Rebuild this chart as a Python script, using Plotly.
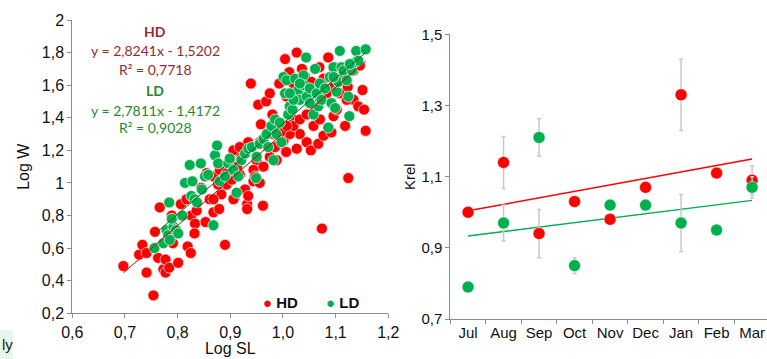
import numpy as np
import plotly.graph_objects as go

# ---------------- Left panel data: Log SL vs Log W ----------------
hd_logsl = [0.697, 0.727, 0.733, 0.741, 0.741, 0.754, 0.757, 0.763, 0.766, 0.773, 0.777, 0.777,
            0.784, 0.791, 0.789, 0.801, 0.806, 0.819, 0.825, 0.826, 0.833, 0.832, 0.845, 0.853,
            0.861, 0.868, 0.879, 0.883, 0.890, 0.893, 0.903, 0.908, 0.918, 0.928, 0.932, 0.932,
            0.934, 0.939, 0.944, 0.950, 0.956, 0.958, 0.962, 0.953, 0.968, 0.975, 0.980, 0.988,
            0.993, 0.997, 1.004, 1.006, 1.007, 1.012, 1.020, 1.026, 1.026, 1.032, 1.036, 1.045,
            1.053, 1.058, 1.067, 1.069, 1.074, 1.077, 1.086, 1.092, 1.096, 1.108, 1.118, 1.123,
            1.124, 1.134, 1.143, 1.151, 1.154, 1.157,
            0.899, 0.913, 0.921, 0.944, 0.963, 0.975, 0.985, 1.001, 1.013, 1.020, 1.032, 1.045,
            1.061, 1.070, 1.083, 1.096, 1.108, 1.121, 1.102, 1.070, 0.868, 0.880, 0.906, 0.925,
            0.893, 0.855, 0.877, 0.918, 0.956, 0.982, 0.995, 1.007, 1.020, 1.042, 1.054, 1.077,
            1.115, 1.134, 1.096, 1.146, 0.817, 0.836, 0.868, 0.906, 0.934, 0.947]
hd_logw = [0.49, 0.56, 0.62, 0.57, 0.45, 0.31, 0.70, 0.54, 0.85, 0.47, 0.53, 0.45,
           0.48, 0.63, 0.80, 0.51, 0.87, 0.61, 0.57, 0.80, 0.75, 0.69, 0.97, 0.76,
           0.90, 0.82, 0.84, 0.93, 0.62, 0.99, 1.02, 0.91, 1.05, 0.96, 0.87, 0.84,
           1.25, 1.61, 1.01, 1.14, 1.00, 1.36, 0.86, 1.48, 1.50, 1.55, 1.42, 1.14,
           1.61, 1.24, 1.76, 1.19, 1.53, 1.68, 1.39, 1.80, 1.21, 1.30, 1.70, 1.25,
           1.20, 1.35, 1.24, 1.71, 0.72, 1.29, 1.77, 1.31, 1.41, 1.55, 1.35, 1.59,
           1.03, 1.51, 1.47, 1.57, 1.45, 1.32,
           1.11, 1.10, 1.16, 1.08, 1.10, 1.16, 1.22, 1.26, 1.30, 1.35, 1.39, 1.42,
           1.47, 1.51, 1.55, 1.59, 1.63, 1.51, 1.45, 1.39, 1.04, 1.08, 1.20, 1.20,
           1.06, 1.06, 0.99, 1.22, 1.25, 1.30, 1.31, 1.35, 1.61, 1.65, 1.62, 1.64,
           1.69, 1.69, 1.71, 1.72, 0.90, 0.83, 0.90, 0.90, 0.92, 1.04]

ld_logsl = [0.756, 0.773, 0.784, 0.779, 0.782, 0.785, 0.792, 0.797, 0.789, 0.801, 0.809, 0.814,
            0.823, 0.826, 0.828, 0.832, 0.837, 0.844, 0.846, 0.852, 0.858, 0.868, 0.871, 0.875,
            0.877, 0.880, 0.890, 0.896, 0.899, 0.906, 0.912, 0.915, 0.921, 0.928, 0.934, 0.941,
            0.949, 0.950, 0.956, 0.963, 0.969, 0.972, 0.978, 0.982, 0.985, 0.988, 0.994, 0.997,
            1.001, 1.004, 1.007, 1.010, 1.013, 1.018, 1.023, 1.029, 1.032, 1.039, 1.039, 1.044,
            1.045, 1.051, 1.058, 1.061, 1.064, 1.067, 1.070, 1.073, 1.080, 1.086, 1.089, 1.092,
            1.096, 1.102, 1.105, 1.108, 1.111, 1.115, 1.121, 1.124, 1.126, 1.131, 1.137, 1.139,
            1.143, 1.157, 1.127, 1.099, 1.032, 1.020, 1.013, 1.051, 1.096]
ld_logw = [0.60, 0.63, 0.88, 0.71, 0.68, 0.65, 0.73, 0.71, 0.78, 0.69, 0.80, 1.00,
           1.11, 0.92, 1.01, 0.90, 0.88, 1.12, 0.96, 1.04, 1.05, 0.74, 1.17, 1.23,
           1.12, 1.01, 1.04, 1.12, 1.15, 1.08, 0.94, 1.04, 1.14, 1.18, 1.21, 1.22,
           1.03, 1.16, 1.24, 1.27, 1.30, 1.22, 1.35, 1.14, 1.39, 1.30, 1.37, 1.25,
           1.65, 1.55, 1.63, 1.42, 1.47, 1.45, 1.64, 1.57, 1.51, 1.66, 1.60, 1.77,
           1.53, 1.58, 1.42, 1.70, 1.55, 1.47, 1.61, 1.51, 1.58, 1.34, 1.65, 1.49,
           1.71, 1.56, 1.62, 1.81, 1.71, 1.69, 1.63, 1.53, 1.41, 1.69, 1.74, 1.81,
           1.75, 1.82, 1.73, 1.46, 1.61, 1.51, 1.55, 1.49, 1.65]

# Trendline coefficients (as printed on the chart)
hd_slope, hd_intercept, hd_r2 = 2.8241, -1.5202, 0.7718
ld_slope, ld_intercept, ld_r2 = 2.7811, -1.4172, 0.9028

# ---------------- Right panel data: Krel by month ----------------
months = ["Jul", "Aug", "Sep", "Oct", "Nov", "Dec", "Jan", "Feb", "Mar"]
hd_krel = [1.00, 1.14, 0.94, 1.03, 0.98, 1.07, 1.33, 1.11, 1.09]
hd_err = [0.0, 0.073, 0.068, 0.0, 0.0, 0.0, 0.10, 0.0, 0.04]
ld_krel = [0.79, 0.97, 1.21, 0.85, 1.02, 1.02, 0.97, 0.95, 1.07]
ld_err = [0.0, 0.05, 0.053, 0.022, 0.0, 0.0, 0.08, 0.0, 0.03]

left_x_ticks = [0.6, 0.7, 0.8, 0.9, 1.0, 1.1, 1.2]
left_x_text = ["0,6", "0,7", "0,8", "0,9", "1,0", "1,1", "1,2"]
left_y_ticks = [0.2, 0.4, 0.6, 0.8, 1.0, 1.2, 1.4, 1.6, 1.8, 2.0]
left_y_text = ["0,2", "0,4", "0,6", "0,8", "1", "1,2", "1,4", "1,6", "1,8", "2"]
right_y_ticks = [0.7, 0.9, 1.1, 1.3, 1.5]
right_y_text = ["0,7", "0,9", "1,1", "1,3", "1,5"]

RED = "#ff0000"
GREEN = "#00b050"
HD_TXT = "#952b2b"
LD_TXT = "#1f8a2a"
AX = "#8c8c8c"
W, H = 767, 359

fig = go.Figure()

# Left scatter
fig.add_trace(go.Scatter(x=hd_logsl, y=hd_logw, mode="markers", name="HD",
                         marker=dict(color=RED, size=11, line=dict(color="#ffdddd", width=0.8)),
                         xaxis="x", yaxis="y", showlegend=False))
fig.add_trace(go.Scatter(x=ld_logsl, y=ld_logw, mode="markers", name="LD",
                         marker=dict(color=GREEN, size=11, line=dict(color="#ddf5e5", width=0.8)),
                         xaxis="x", yaxis="y", showlegend=False))

# Trendlines
hx = np.array([min(hd_logsl), max(hd_logsl)])
lx = np.array([min(ld_logsl), max(ld_logsl)])
fig.add_trace(go.Scatter(x=hx, y=hd_slope * hx + hd_intercept, mode="lines",
                         line=dict(color="#d00000", width=1), showlegend=False,
                         xaxis="x", yaxis="y", hoverinfo="skip"))
fig.add_trace(go.Scatter(x=lx, y=ld_slope * lx + ld_intercept, mode="lines",
                         line=dict(color="#1a5e20", width=1), showlegend=False,
                         xaxis="x", yaxis="y", hoverinfo="skip"))

# Right panel: regression lines computed from the monthly values
idx = np.arange(len(months))
hd_fit = np.polyfit(idx, hd_krel, 1)
ld_fit = np.polyfit(idx, ld_krel, 1)
fig.add_trace(go.Scatter(x=months, y=np.polyval(hd_fit, idx), mode="lines",
                         line=dict(color=RED, width=1.5), showlegend=False,
                         xaxis="x2", yaxis="y2", hoverinfo="skip"))
fig.add_trace(go.Scatter(x=months, y=np.polyval(ld_fit, idx), mode="lines",
                         line=dict(color=GREEN, width=1.5), showlegend=False,
                         xaxis="x2", yaxis="y2", hoverinfo="skip"))

fig.add_trace(go.Scatter(x=months, y=hd_krel, mode="markers", showlegend=False,
                         error_y=dict(type="data", array=hd_err, color="#c8c8c8", thickness=1.5, width=2),
                         marker=dict(color=RED, size=12, line=dict(color="white", width=0.5)),
                         xaxis="x2", yaxis="y2"))
fig.add_trace(go.Scatter(x=months, y=ld_krel, mode="markers", showlegend=False,
                         error_y=dict(type="data", array=ld_err, color="#c8c8c8", thickness=1.5, width=2),
                         marker=dict(color=GREEN, size=12, line=dict(color="white", width=0.5)),
                         xaxis="x2", yaxis="y2"))

SANS = "Liberation Sans, Arial, sans-serif"
tickfont_l = dict(family=SANS, size=16, color="#111111")
tickfont_r = dict(family=SANS, size=15, color="#111111")

fig.update_layout(
    width=W, height=H,
    margin=dict(l=0, r=0, t=0, b=0, autoexpand=False),
    paper_bgcolor="white", plot_bgcolor="white",
    font=dict(family=SANS, color="#111111"),
    xaxis=dict(domain=[72.3 / W, 388.3 / W], range=[0.6, 1.2], tickvals=left_x_ticks, ticktext=left_x_text,
               showgrid=False, zeroline=False, showline=True, linecolor=AX, linewidth=1,
               ticks="outside", ticklen=4, tickcolor=AX, tickfont=tickfont_l, tickangle=0,
               title=dict(text="Log SL", font=dict(size=16), standoff=2), anchor="y"),
    yaxis=dict(domain=[1 - 313.3 / H, 1 - 20 / H], range=[0.2, 2.0], tickvals=left_y_ticks, ticktext=left_y_text,
               showgrid=False, zeroline=False, showline=True, linecolor=AX, linewidth=1,
               ticks="outside", ticklen=4, tickcolor=AX, tickfont=tickfont_l,
               title=dict(text="Log W", font=dict(size=16), standoff=8), anchor="x"),
    xaxis2=dict(domain=[450.3 / W, 1.0], range=[-0.5, 8.42], type="category", categoryorder="array",
                categoryarray=months, tickson="boundaries", tickangle=0,
                showgrid=False, zeroline=False, showline=True, linecolor=AX, linewidth=1,
                ticks="outside", ticklen=4, tickcolor=AX, tickfont=tickfont_r, anchor="y2"),
    yaxis2=dict(domain=[1 - 319 / H, 1 - 34.3 / H], range=[0.7, 1.5], tickvals=right_y_ticks, ticktext=right_y_text,
                showgrid=False, zeroline=False, showline=True, linecolor=AX, linewidth=1,
                ticks="outside", ticklen=4, tickcolor=AX, tickfont=tickfont_r,
                title=dict(text="Krel", font=dict(size=15), standoff=2), anchor="x2"),
    showlegend=False,
)

ann_font = "Lato, Calibri, sans-serif"
cx = 155
def paper_y(py):
    return 1 - py / H

annots = [
    ("<b>HD</b>", 32, HD_TXT),
    (f"y = {str(hd_slope).replace('.', ',')}x - {str(abs(hd_intercept)).replace('.', ',')}", 51, HD_TXT),
    (f"R² = {str(hd_r2).replace('.', ',')}", 70, HD_TXT),
    ("<b>LD</b>", 91, LD_TXT),
    (f"y = {str(ld_slope).replace('.', ',')}x - {str(abs(ld_intercept)).replace('.', ',')}", 110, LD_TXT),
    (f"R² = {str(ld_r2).replace('.', ',')}", 128, LD_TXT),
]
for txt, py, col in annots:
    fig.add_annotation(text=txt, xref="paper", yref="paper", x=cx / W, y=paper_y(py),
                       xanchor="center", yanchor="middle", showarrow=False,
                       font=dict(family=ann_font, size=14, color=col))

# legend drawn as text (bullet glyph + bold label), bottom-right inside the left panel
LEG_FONT = "Liberation Sans Narrow, Arial Narrow, Liberation Sans, sans-serif"
for label, col, px in [("HD", RED, 261), ("LD", GREEN, 324)]:
    fig.add_annotation(text=f'<span style="color:{col}">●</span> <b>{label}</b>',
                       xref="paper", yref="paper", x=px / W, y=paper_y(302),
                       xanchor="left", yanchor="middle", showarrow=False,
                       font=dict(family=LEG_FONT, size=15, color="#111111"))

# cropped fragment at bottom-left
fig.add_shape(type="rect", xref="paper", yref="paper", x0=0, x1=13 / W, y0=0, y1=1 - 330 / H,
              fillcolor="#e9f6ee", line=dict(width=0), layer="below")
fig.add_annotation(text="ly", xref="paper", yref="paper", x=0, y=paper_y(344),
                   xanchor="left", yanchor="middle", showarrow=False,
                   font=dict(family=SANS, size=15, color="#222222"))

fig.write_html("out.html", config={"displayModeBar": False},
               post_script="document.body.style.margin='0';")
